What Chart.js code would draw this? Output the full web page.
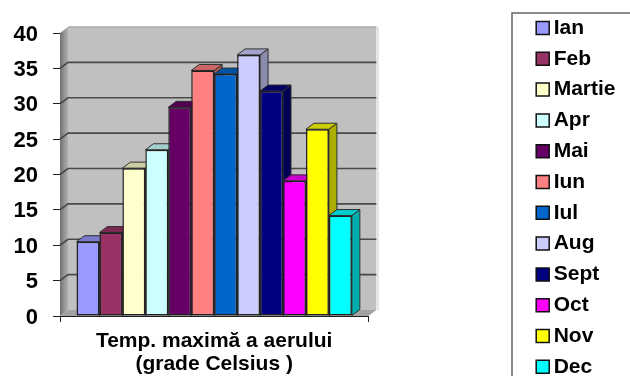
<!DOCTYPE html>
<html>
<head>
<meta charset="utf-8">
<style>
html,body{margin:0;padding:0;width:630px;height:376px;overflow:hidden;background:#fff}
canvas{display:block;filter:blur(0.45px)}
</style>
<script src="https://cdn.jsdelivr.net/npm/chart.js@4"></script>
</head>
<body>
<canvas id="c" width="630" height="420"></canvas>
<script>
const categories = [["Temp. maximă a aerului", "(grade Celsius )"]];
const months = ["Ian","Feb","Martie","Apr","Mai","Iun","Iul","Aug","Sept","Oct","Nov","Dec"];
const values = [10.5,11.8,20.9,23.5,29.5,34.7,34.2,36.9,31.8,19.1,26.4,14.2];
const colors = ["#9999FF","#993366","#FFFFCC","#CCFFFF","#660066","#FF8080","#0066CC","#CCCCFF","#000080","#FF00FF","#FFFF00","#00FFFF"];
const yTicks = {min:0,max:40,stepSize:5};
const DX = 8, DY = -6;

function shade(hex,f){
  const n=parseInt(hex.slice(1),16);
  const c=[(n>>16)&255,(n>>8)&255,n&255].map(v=>Math.round(v*f));
  return `rgb(${c[0]},${c[1]},${c[2]})`;
}
function poly(ctx,pts,fill,stroke,lw){
  ctx.beginPath();
  pts.forEach((p,i)=>i?ctx.lineTo(p[0],p[1]):ctx.moveTo(p[0],p[1]));
  ctx.closePath();
  if(fill){ctx.fillStyle=fill;ctx.fill();}
  if(stroke){ctx.strokeStyle=stroke;ctx.lineWidth=lw||1;ctx.stroke();}
}

const frame3d = {
  id:'frame3d',
  afterLayout(chart){
    const lg=chart.legend,w=lg.width,h=lg.height;
    lg.left = 532.4;
    lg.top = 7.7;
    lg.right = lg.left+w;
    lg.bottom = lg.top+h;
  },
  beforeDraw(chart){
    const ctx=chart.ctx;
    ctx.save();
    ctx.strokeStyle='#666';ctx.lineWidth=1.5;
    ctx.strokeRect(512,13,200,500);
    ctx.restore();
  },
  beforeDatasetsDraw(chart){
    const ctx=chart.ctx,{left,right,top,bottom}=chart.chartArea,y=chart.scales.y;
    ctx.save();
    // back wall
    poly(ctx,[[left+DX,top+DY],[right+DX,top+DY],[right+DX,bottom+DY],[left+DX,bottom+DY]],'#C0C0C0');
    ctx.strokeStyle='#E2E2E2';ctx.lineWidth=2;
    ctx.beginPath();ctx.moveTo(right+DX+1.5,top+DY);ctx.lineTo(right+DX+1.5,bottom+DY);ctx.stroke();
    ctx.strokeStyle='#A8A8A8';ctx.lineWidth=1.5;
    ctx.beginPath();ctx.moveTo(left+DX,top+DY);ctx.lineTo(right+DX,top+DY);ctx.stroke();
    // side wall
    const g=ctx.createLinearGradient(left,0,left+DX,0);
    g.addColorStop(0,'#707070');g.addColorStop(0.5,'#929292');g.addColorStop(1,'#B0B0B0');
    poly(ctx,[[left,top],[left+DX,top+DY],[left+DX,bottom+DY],[left,bottom]],g);
    // floor
    poly(ctx,[[left,bottom],[left+DX,bottom+DY],[right+DX,bottom+DY],[right,bottom]],'#A2A2A2');
    // gridlines
    y.ticks.forEach(t=>{
      if(t.value===yTicks.min||t.value===yTicks.max)return;
      const p=y.getPixelForValue(t.value);
      ctx.strokeStyle='#4A4A4A';ctx.lineWidth=1.7;
      ctx.beginPath();ctx.moveTo(left,p);ctx.lineTo(left+DX,p+DY);ctx.lineTo(right+DX,p+DY);ctx.stroke();
    });
    // bar depth, left to right
    chart.data.datasets.forEach((ds,i)=>{
      const b=chart.getDatasetMeta(i).data[0];
      const xl=b.x-b.width/2,xr=b.x+b.width/2;
      poly(ctx,[[xr,b.y],[xr+DX,b.y+DY],[xr+DX,b.base+DY],[xr,b.base]],shade(ds.backgroundColor,0.68),'#303030',1);
      poly(ctx,[[xl,b.y],[xl+DX,b.y+DY],[xr+DX,b.y+DY],[xr,b.y]],shade(ds.backgroundColor,0.8),'#303030',1);
    });
    ctx.restore();
  }
};

new Chart(document.getElementById('c'),{
  type:'bar',
  plugins:[frame3d],
  data:{
    labels:categories,
    datasets:months.map((m,i)=>({
      label:m,
      data:[values[i]],
      backgroundColor:colors[i],
      borderColor:'#202020',
      borderWidth:1.5,
      borderSkipped:false,
      categoryPercentage:0.893,
      barPercentage:1
    }))
  },
  options:{
    responsive:false,
    animation:false,
    layout:{padding:{top:33,left:0,bottom:0,right:168.5}},
    plugins:{
      tooltip:{enabled:false},
      title:{display:false},
      legend:{
        position:'right',
        align:'start',
        onClick:null,
        labels:{
          color:'#000',
          font:{family:'"Liberation Sans"',weight:'bold',size:21},
          usePointStyle:true,
          pointStyle:'rect',
          boxWidth:1,
          boxHeight:13,
          padding:9.8,
          generateLabels(chart){
            return chart.data.datasets.map((ds,i)=>({
              text:ds.label,fillStyle:ds.backgroundColor,strokeStyle:'#101010',
              lineWidth:1.5,pointStyle:'rect',datasetIndex:i,fontColor:'#000'
            }));
          }
        }
      }
    },
    scales:{
      x:{
        afterFit(s){s.height=104;},
        offset:true,
        border:{color:'#202020',width:1},
        grid:{display:true,offset:true,drawOnChartArea:false,tickLength:6,color:'#202020'},
        ticks:{color:'#000',padding:8,maxRotation:0,autoSkip:false,
          font:{family:'"Liberation Sans"',weight:'bold',size:21,lineHeight:1.1}}
      },
      y:{
        min:yTicks.min,max:yTicks.max,
        afterFit(s){s.width=60;},
        border:{color:'#202020',width:1},
        grid:{drawOnChartArea:false,tickLength:7,color:'#202020'},
        ticks:{stepSize:yTicks.stepSize,color:'#000',padding:15,labelOffset:1.5,
          font:{family:'"Liberation Sans"',weight:'bold',size:22}}
      }
    }
  }
});
</script>
</body>
</html>
